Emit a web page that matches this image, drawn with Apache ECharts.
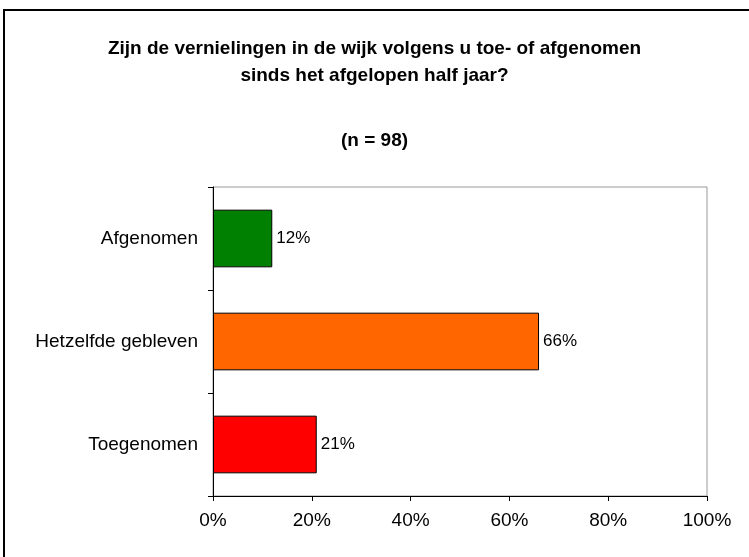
<!DOCTYPE html>
<html>
<head>
<meta charset="utf-8">
<script src="https://cdn.jsdelivr.net/npm/echarts@6/dist/echarts.min.js"></script>
<style>
  html, body { margin: 0; padding: 0; background: #fff; }
  #chart { width: 749px; height: 557px; }
</style>
</head>
<body>
<div id="chart"></div>
<script>
  // categories top to bottom
  var categories = ['Afgenomen', 'Hetzelfde gebleven', 'Toegenomen']
  var percentages = [12, 66, 21]
  var barColors = ['#008000', '#ff6600', '#ff0000']
  var xTicks = [0, 20, 40, 60, 80, 100]

  var chart = echarts.init(document.getElementById('chart'))

  var option = {
    backgroundColor: '#fff',
    animation: false,
    title: [
      {
        text: 'Zijn de vernielingen in de wijk volgens u toe- of afgenomen\nsinds het afgelopen half jaar?',
        left: 'center',
        top: 30,
        textStyle: {
          fontFamily: 'Liberation Sans',
          fontWeight: 'bold',
          fontSize: 19,
          lineHeight: 27,
          color: '#000'
        }
      },
      {
        text: '(n = 98)',
        left: 'center',
        top: 126,
        textStyle: {
          fontFamily: 'Liberation Sans',
          fontWeight: 'bold',
          fontSize: 19,
          color: '#000'
        }
      }
    ],
    graphic: [
      {
        type: 'rect',
        shape: { x: 4, y: 10, width: 800, height: 600 },
        style: { fill: null, stroke: '#000', lineWidth: 2 },
        silent: true
      }
    ],
    grid: {
      left: 213,
      right: 42,
      top: 187,
      bottom: 61,
      show: true,
      borderColor: '#999',
      borderWidth: 1
    },
    xAxis: {
      type: 'value',
      min: xTicks[0],
      max: xTicks[xTicks.length - 1],
      interval: 20,
      splitLine: { show: false },
      axisLine: { show: true, lineStyle: { color: '#000', width: 1 } },
      axisTick: { show: true, length: 5, lineStyle: { color: '#000' } },
      axisLabel: {
        margin: 15,
        fontFamily: 'Liberation Sans',
        fontSize: 19,
        color: '#000',
        formatter: '{value}%'
      }
    },
    yAxis: {
      type: 'category',
      inverse: true,
      data: categories,
      axisLine: { show: true, lineStyle: { color: '#000', width: 1 } },
      axisTick: { show: true, length: 5, alignWithLabel: false, lineStyle: { color: '#000' } },
      axisLabel: {
        margin: 15,
        fontFamily: 'Liberation Sans',
        fontSize: 19,
        color: '#000'
      }
    },
    series: [
      {
        type: 'bar',
        barWidth: '56%',
        data: percentages.map(function (v, i) {
          return {
            value: v,
            itemStyle: { color: barColors[i], borderColor: '#000', borderWidth: 1 }
          }
        }),
        label: {
          show: true,
          position: 'right',
          distance: 4,
          formatter: '{c}%',
          fontFamily: 'Liberation Sans',
          fontSize: 17,
          color: '#000'
        }
      }
    ]
  }

  chart.setOption(option)
</script>
</body>
</html>
